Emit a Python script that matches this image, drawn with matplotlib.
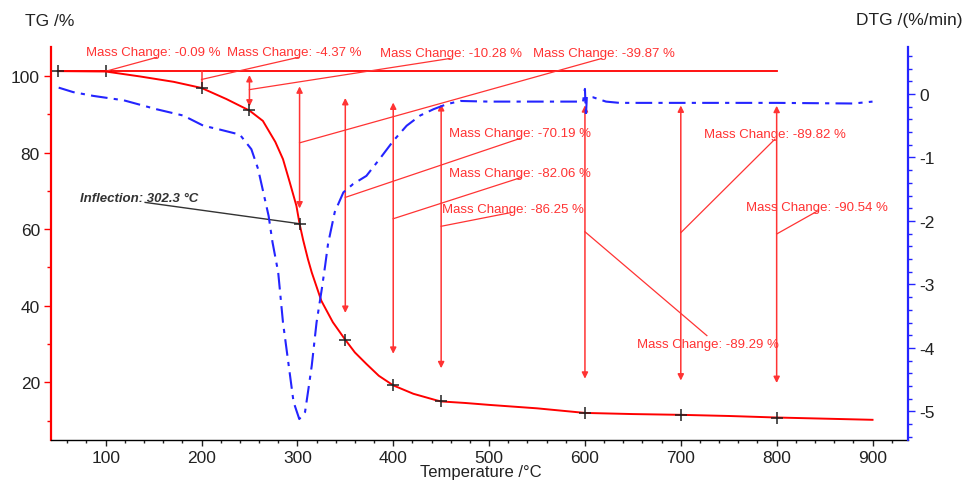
import matplotlib
matplotlib.use("Agg")
import matplotlib.pyplot as plt
from matplotlib.ticker import MultipleLocator

plt.rcParams["font.family"] = ["Liberation Sans", "DejaVu Sans"]
plt.rcParams["axes.unicode_minus"] = False

# TG curve (mass %)
tg_temp = [50, 100, 136, 171, 200, 226, 250, 264, 277, 285, 292, 299, 302.3,
           306, 311, 315, 325, 337, 350, 360, 372, 385, 400, 421, 445, 450,
           475, 500, 550, 600, 650, 700, 750, 800, 850, 900]
tg_mass = [101.3, 101.2, 99.9, 98.5, 96.9, 94.0, 91.0, 88.3, 82.8, 78.3, 72.3,
           66.1, 61.4, 57.2, 52.2, 48.7, 41.3, 35.7, 31.1, 27.8, 24.8, 21.7,
           19.2, 17.0, 15.3, 15.0, 14.6, 14.1, 13.2, 12.0, 11.7, 11.5, 11.2,
           10.8, 10.5, 10.2]

# DTG curve (%/min)
dtg_temp = [51, 66, 87, 119, 153, 181, 202, 219, 240, 252, 259, 264.5, 270,
            274, 280, 285, 291, 296, 302, 308, 311.5, 315, 320, 325.5, 329,
            332, 339, 348, 358, 372, 386, 400, 414, 428, 442, 456, 470, 500,
            550, 598, 600, 601, 602, 608, 622, 636, 700, 800, 880, 900]
dtg_vals = [0.10, 0.03, -0.03, -0.10, -0.24, -0.34, -0.50, -0.56, -0.64,
            -0.87, -1.18, -1.55, -1.92, -2.33, -2.81, -3.60, -4.28, -4.85,
            -5.12, -5.01, -4.65, -4.28, -3.60, -3.07, -2.70, -2.36, -1.86,
            -1.55, -1.42, -1.29, -1.02, -0.74, -0.50, -0.34, -0.24, -0.16,
            -0.11, -0.12, -0.12, -0.12, 0.08, -0.36, -0.04, -0.05, -0.12,
            -0.14, -0.14, -0.14, -0.15, -0.12]

start_mass = 101.3
step_temp = [100, 200, 250, 302.3, 350, 400, 450, 600, 700, 800]
step_change = [-0.09, -4.37, -10.28, -39.87, -70.19, -82.06, -86.25,
               -89.29, -89.82, -90.54]

# label placement (left, baseline) and leader end, in data units
label_pos = [(79.7, 105.5), (226.7, 105.5), (386.2, 105.3), (546.1, 105.3),
             (458.2, 84.3), (458.2, 74.0), (450.4, 64.6), (654.2, 29.2),
             (724.1, 84.2), (767.9, 65.0)]
leader_end = [(153.4, 104.9), (301.0, 104.9), (459.2, 104.6), (617.4, 104.6),
              (532.2, 83.7), (533.3, 73.5), (523.9, 64.4), (727.2, 32.2),
              (798.1, 83.5), (843.0, 64.8)]

inflection_temp = 302.3

RED = "#ff0000"
ANN = "#ff3333"
BLUE = "#2424ff"
TXT = "#222222"

fig = plt.figure(figsize=(9.68, 4.81), dpi=100)
ax = fig.add_axes([0.0527, 0.0832, 0.8853, 0.8170])
ax2 = ax.twinx()

ax.set_xlim(43, 937)
ax.set_ylim(4.93, 107.6)
ax2.set_ylim(-5.45, 0.74)

# TG curve and start-mass line
ax.plot(tg_temp, tg_mass, color=RED, lw=1.4, zorder=4)
ax.plot([tg_temp[0], step_temp[-1]], [start_mass, start_mass],
        color=RED, lw=1.3, zorder=3)

# step markers
ax.plot(step_temp[0], start_mass + step_change[0], marker="+", ms=8,
        mew=1.1, color=TXT, zorder=2)
ax.plot([tg_temp[0]] + step_temp[1:],
        [tg_mass[0]] + [start_mass + c for c in step_change[1:]],
        ls="none", marker="+", ms=8, mew=1.1, color=TXT, zorder=6)

for T, c, (tx, ty), (ex, ey) in zip(step_temp, step_change, label_pos,
                                     leader_end):
    end = start_mass + c
    if abs(c) < 5:
        ax.plot([T, T], [start_mass, end], color=ANN, lw=1.1, zorder=3)
        ly = start_mass + c / 2
    else:
        ax.annotate("", xy=(T, start_mass + 0.9 * c),
                    xytext=(T, start_mass + 0.1 * c),
                    arrowprops=dict(arrowstyle="<|-|>", color=ANN, lw=1.1,
                                    mutation_scale=9, shrinkA=0, shrinkB=0),
                    zorder=3)
        ly = start_mass + 0.47 * c
    ax.plot([T, ex], [ly, ey], color=ANN, lw=0.9, zorder=3)
    ax.text(tx, ty, f"Mass Change: {c:.2f} %", color=ANN, fontsize=9.5,
            ha="left", va="baseline", zorder=7)

# inflection annotation
infl_mass = start_mass + step_change[3]
ax.plot([141.2, inflection_temp], [67.0, infl_mass], color="#333333", lw=1.0,
        zorder=5)
ax.text(73.4, 67.4, f"Inflection: {inflection_temp} °C", color="#333333",
        fontsize=9.5, fontweight="bold", fontstyle="italic",
        ha="left", va="baseline", zorder=7)

# DTG curve
ax2.plot(dtg_temp, dtg_vals, color=BLUE, lw=1.5, ls=(0, (8, 3, 2, 3)),
         zorder=5)

# axes styling
ax.spines["top"].set_visible(False)
ax2.spines["top"].set_visible(False)
ax.spines["left"].set_color(RED)
ax.spines["left"].set_linewidth(1.6)
ax2.spines["left"].set_visible(False)
ax2.spines["right"].set_color(BLUE)
ax2.spines["right"].set_linewidth(1.6)
ax.spines["right"].set_visible(False)
ax2.spines["bottom"].set_visible(False)
ax.spines["bottom"].set_linewidth(1.0)

ax.xaxis.set_major_locator(MultipleLocator(100))
ax.xaxis.set_minor_locator(MultipleLocator(20))
ax.yaxis.set_major_locator(MultipleLocator(20))
ax.yaxis.set_minor_locator(MultipleLocator(10))
ax2.yaxis.set_major_locator(MultipleLocator(1))
ax2.yaxis.set_minor_locator(MultipleLocator(0.2))

ax.tick_params(axis="x", which="major", length=4.5, width=1, colors=TXT,
               labelsize=12.5, pad=2.5)
ax.tick_params(axis="x", which="minor", length=2.5, width=1, colors=TXT)
ax.tick_params(axis="y", which="major", length=5, width=1, color=RED,
               labelcolor=TXT, labelsize=12.5, pad=3)
ax.tick_params(axis="y", which="minor", length=3, width=1, color=RED)
ax2.tick_params(axis="y", which="major", length=5, width=1, color=BLUE,
                labelcolor=TXT, labelsize=12.5, pad=3)
ax2.tick_params(axis="y", which="minor", length=3, width=1, color=BLUE)

ax.set_xticks([100, 200, 300, 400, 500, 600, 700, 800, 900])
ax.set_yticks([20, 40, 60, 80, 100])
ax2.set_yticks([-5, -4, -3, -2, -1, 0])

fig.text(50 / 968, 1 - 21 / 481, "TG /%", ha="center", va="center",
         fontsize=12.5, color=TXT)
fig.text(909 / 968, 1 - 20 / 481, "DTG /(%/min)", ha="center", va="center",
         fontsize=12.5, color=TXT)
fig.text(481 / 968, 1.0 / 481, "Temperature /°C", ha="center",
         va="bottom", fontsize=12, color=TXT)

fig.savefig("out.png", dpi=100)
